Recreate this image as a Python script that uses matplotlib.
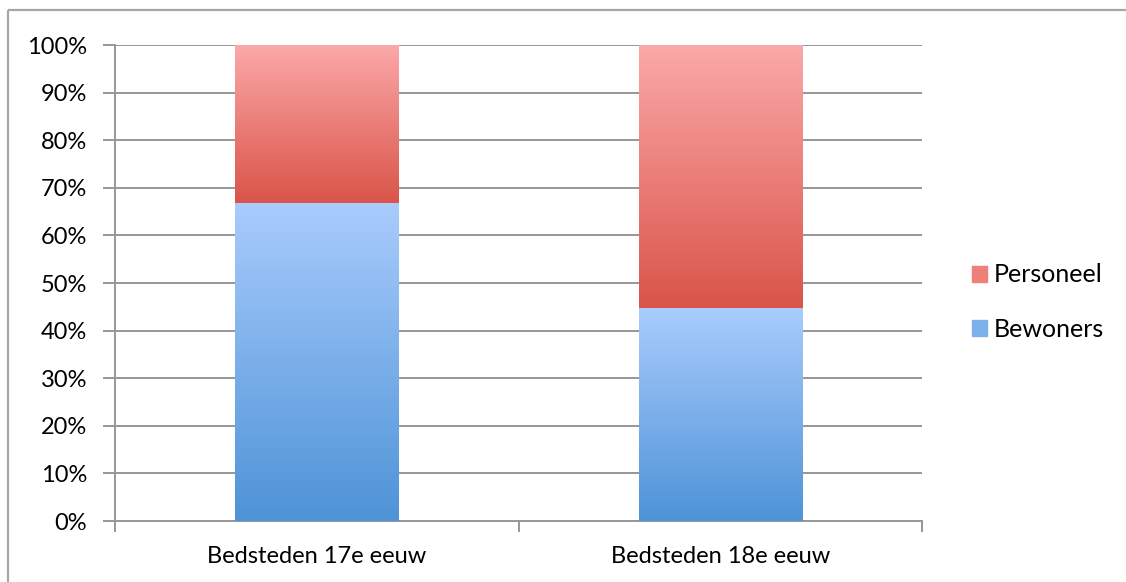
import numpy as np
import matplotlib
matplotlib.use("Agg")
import matplotlib.pyplot as plt
from matplotlib.colors import LinearSegmentedColormap
from matplotlib.lines import Line2D
from matplotlib.patches import Rectangle

categories = ["Bedsteden 17e eeuw", "Bedsteden 18e eeuw"]
bewoners = [66.8, 44.7]
personeel = [33.2, 55.3]
y_ticks = [0, 10, 20, 30, 40, 50, 60, 70, 80, 90, 100]

plt.rcParams["font.family"] = ["Lato", "DejaVu Sans"]

GRAY = "#979797"
BLUE = ("#4E93D7", "#A9CCFD")   # bottom, top
RED = ("#DA5449", "#FBA9A9")

fig = plt.figure(figsize=(11.26, 5.82), dpi=100)
ax = fig.add_axes([115 / 1126, 1 - 521 / 582, 807 / 1126, 476 / 582])

# outer chart frame (cut off at right and bottom)
fig.add_artist(Line2D([8 / 1126, 1.01], [1 - 10 / 582, 1 - 10 / 582], color="#A6A6A6",
                      lw=1.6, solid_capstyle="butt"))
fig.add_artist(Line2D([8 / 1126, 8 / 1126], [-0.01, 1 - 10 / 582], color="#A6A6A6",
                      lw=1.6, solid_capstyle="butt"))

x = np.arange(len(categories))
width = 0.404


def gradient_bars(bars, colors):
    cmap = LinearSegmentedColormap.from_list("g", list(colors))
    grad = np.linspace(0, 1, 256).reshape(-1, 1)
    for bar in bars:
        x0, y0 = bar.get_x(), bar.get_y()
        w, h = bar.get_width(), bar.get_height()
        im = ax.imshow(grad, cmap=cmap, origin="lower", aspect="auto",
                       extent=[x0, x0 + w, y0, y0 + h], zorder=3)
        im.set_clip_path(bar)
        bar.set_facecolor("none")


b1 = ax.bar(x, bewoners, width, color=BLUE[0], lw=0, zorder=3)
b2 = ax.bar(x, personeel, width, bottom=bewoners, color=RED[0], lw=0, zorder=3)
gradient_bars(b1, BLUE)
gradient_bars(b2, RED)

ax.set_xlim(-0.5, len(categories) - 0.5)
ax.set_ylim(0, 100)
ax.set_yticks(y_ticks)
ax.set_yticklabels([f"{t}%" for t in y_ticks])
ax.set_xticks(x)
ax.set_xticklabels(categories)
ax.set_xticks(np.arange(len(categories) + 1) - 0.5, minor=True)

ax.yaxis.grid(True, color=GRAY, lw=1.4, zorder=0)
ax.set_axisbelow(True)
for side in ["top", "right"]:
    ax.spines[side].set_visible(False)
for side in ["left", "bottom"]:
    ax.spines[side].set_color(GRAY)
    ax.spines[side].set_linewidth(1.4)

ax.tick_params(axis="y", length=9, width=1.4, color=GRAY, pad=11, labelsize=17)
ax.tick_params(axis="x", which="major", length=0, pad=18, labelsize=17)
ax.tick_params(axis="x", which="minor", length=8, width=1.4, color=GRAY)

handles = [Rectangle((0, 0), 1, 1, color="#EE7F79"), Rectangle((0, 0), 1, 1, color="#7DB1EC")]
ax.legend(handles, ["Personeel", "Bewoners"], loc="center left",
          bbox_to_anchor=(959 / 1126, 1 - 302 / 582), bbox_transform=fig.transFigure,
          frameon=False, fontsize=18, handlelength=0.6, handleheight=0.6,
          handletextpad=0.3, labelspacing=1.25, borderpad=0)

fig.savefig("out.png", dpi=100)
